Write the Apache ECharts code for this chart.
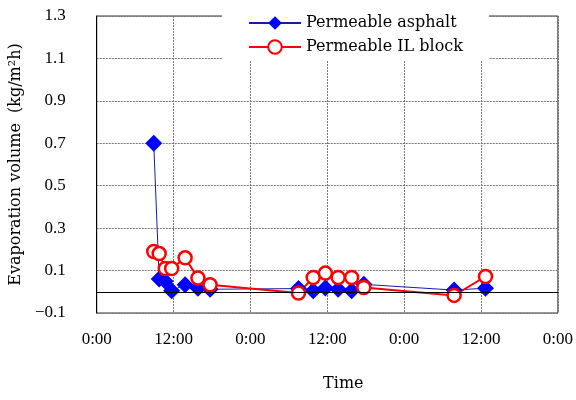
<!DOCTYPE html>
<html><head><meta charset="utf-8">
<script src="https://cdn.jsdelivr.net/npm/echarts@6/dist/echarts.min.js"></script>
<style>html,body{margin:0;padding:0;background:#fff;}#c{width:576px;height:400px;}</style>
</head><body><div id="c"></div>
<script>
// time in hours from first 0:00
const timeHours = [8.9, 9.75, 10.7, 11.7, 13.8, 15.8, 17.7, 31.5, 33.8, 35.7, 37.7, 39.8, 41.7, 55.8, 60.7];
const asphalt = [0.70, 0.06, 0.05, 0.005, 0.033, 0.017, 0.012, 0.015, 0.005, 0.018, 0.012, 0.005, 0.035, 0.008, 0.017];
const ilBlock = [0.19, 0.18, 0.11, 0.11, 0.16, 0.065, 0.033, -0.006, 0.067, 0.088, 0.067, 0.067, 0.02, -0.017, 0.072];
const seriesNames = ['Permeable asphalt', 'Permeable IL block'];
const xTickLabels = ['0:00', '12:00'];

const numFont = 'Liberation Serif';
const txtFont = 'DejaVu Serif';
const chart = echarts.init(document.getElementById('c'), null, {renderer: 'canvas'});
chart.setOption({
  animation: false,
  backgroundColor: '#fff',
  grid: {left: 96, right: 17, top: 16, bottom: 87, show: true, borderColor: '#333', borderWidth: 1},
  legend: {
    orient: 'vertical', left: 222, top: -2,
    padding: [17, 26, 5, 26], itemGap: 8, itemWidth: 52, itemHeight: 17,
    backgroundColor: '#fff',
    textStyle: {fontFamily: txtFont, fontSize: 16, color: '#000'},
    data: [
      {name: seriesNames[0], itemStyle: {color: '#0000ff'}},
      {name: seriesNames[1]}
    ]
  },
  xAxis: {
    type: 'value', min: 0, max: 72, interval: 12,
    name: 'Time', nameLocation: 'middle', nameGap: 63,
    nameTextStyle: {fontFamily: txtFont, fontSize: 16, color: '#000', padding: [0, 0, 0, 32]},
    axisLine: {show: true, lineStyle: {color: '#000'}},
    axisTick: {show: false},
    axisLabel: {fontFamily: numFont, fontSize: 17, color: '#000', margin: 18,
      formatter: v => xTickLabels[(v % 24 === 0) ? 0 : 1]},
    splitLine: {show: true, lineStyle: {color: '#777', type: [2, 1], width: 1}}
  },
  yAxis: {
    type: 'value', min: -0.1, max: 1.3, interval: 0.2,
    name: 'Evaporation volume  (kg/m²h)', nameLocation: 'middle', nameGap: 62,
    nameTextStyle: {fontFamily: txtFont, fontSize: 16, color: '#000'},
    axisLine: {show: true, lineStyle: {color: '#000'}},
    axisTick: {show: false},
    axisLabel: {fontFamily: numFont, fontSize: 17, color: '#000', margin: 31,
      formatter: v => v.toFixed(1).replace('-', '\u2212')},
    splitLine: {show: true, lineStyle: {color: '#777', type: [2, 1], width: 1}}
  },
  series: [
    {
      name: seriesNames[0], type: 'line',
      data: timeHours.map((t, i) => [t, asphalt[i]]),
      symbol: 'diamond', symbolSize: 17,
      itemStyle: {color: '#0000ff', borderWidth: 0},
      lineStyle: {color: '#1a1aa8', width: 1},
      markLine: {silent: true, symbol: 'none', label: {show: false},
        lineStyle: {color: '#000', type: 'solid', width: 1},
        data: [{yAxis: 0}]}
    },
    {
      name: seriesNames[1], type: 'line',
      data: timeHours.map((t, i) => [t, ilBlock[i]]),
      symbol: 'circle', symbolSize: 13, showAllSymbol: true,
      itemStyle: {color: '#fff', borderColor: '#ff0000', borderWidth: 2.5},
      lineStyle: {color: '#ff0000', width: 2}
    }
  ]
});
</script></body></html>
